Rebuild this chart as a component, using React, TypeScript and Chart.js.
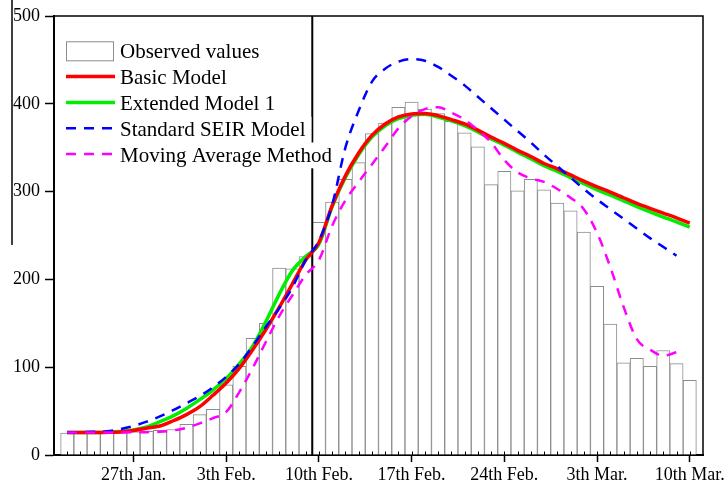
import React, { useEffect, useRef } from "react";
import { Chart, registerables } from "chart.js";

Chart.register(...registerables);

// Day index 0 = 22nd Jan. (one bar per day)
const observed = [
  25, 25, 25, 26, 26, 26.5, 27, 28, 29, 35, 46, 52, 80, 101, 133, 150, 213, 212, 226, 265,
  288, 314, 333, 366, 378, 396, 402, 394, 389, 380, 367, 351, 308, 323, 301, 314, 302, 287,
  278, 254, 192, 149, 105, 110, 101, 119, 104, 85,
];

const basicModel = [
  25.5, 25.5, 25.5, 25.8, 26.3, 28, 30.5, 33, 39, 46, 55, 68, 82, 99, 120, 143, 168, 195, 222,
  242, 284, 318, 344, 364, 377, 385, 388.5, 389, 386.5, 382, 377, 370, 362, 355, 347, 340,
  332, 326, 319, 312, 305.5, 299.5, 293, 286.5, 281, 275.5, 270, 264,
];

const extendedModel1 = [
  25.5, 25.5, 25.5, 26, 26.8, 28.5, 32, 38, 44.5, 53, 63, 74, 87, 104, 124, 152, 183, 210,
  226, 240, 283, 316, 342, 362, 375, 383, 387, 388, 385, 380.5, 375, 368, 360, 353, 345,
  337.5, 329.5, 323, 316, 309, 302, 296, 289.5, 283, 277, 271, 265.5, 259.5,
];

const standardSEIR = [
  25.5, 26, 26.5, 27, 29.5, 33, 38, 44, 51, 59, 67, 77, 89, 104, 124, 146, 167, 191, 222, 244,
  285, 350, 392, 425, 440, 448, 451, 449, 442, 432, 421, 408, 395, 382, 369, 356, 342, 329,
  316, 303, 291, 280, 269, 258, 247, 237, 227,
];

const movingAverage = [
  25.5, 25.5, 25.5, 25.7, 25.7, 25.8, 26, 26.5, 28, 31, 36, 42, 49, 72, 99, 129, 158, 182,
  205, 222, 261, 290, 311, 331, 351, 372, 386, 394, 396, 390, 382, 370, 356, 336, 322, 315,
  311, 303, 293, 280, 253, 214, 169, 132, 120, 113, 117,
];

const tickDays = [5, 12, 19, 26, 33, 40, 47];
const tickLabels = ["27th Jan.", "3th Feb.", "10th Feb.", "17th Feb.", "24th Feb.", "3th Mar.", "10th Mar."];
const markerDay = 18.5;

const legendLabels = [
  "Observed values",
  "Basic Model",
  "Extended Model 1",
  "Standard SEIR Model",
  "Moving Average Method",
];

const FONT_FAMILY = '"Liberation Serif", "Times New Roman", Times, serif';

const lineStyles = [
  { color: "#ff0000", width: 3.5, dash: [] as number[] },
  { color: "#00ee00", width: 3.5, dash: [] as number[] },
  { color: "#0000ff", width: 2.5, dash: [10, 8] },
  { color: "#ff00ff", width: 2.5, dash: [10, 8] },
];
const seriesValues = [basicModel, extendedModel1, standardSEIR, movingAverage];
const seriesOrder = [2, 3, 1, 0];

const toPoints = (arr: number[]) => arr.map((y, i) => ({ x: i, y }));

const decorPlugin = {
  id: "decor",
  afterDatasetDraw(chart: any, args: any) {
    if (args.index !== 0) return;
    const { ctx, chartArea: a, scales } = chart;
    const x = scales.x.getPixelForValue(markerDay);
    ctx.save();
    ctx.strokeStyle = "#000";
    ctx.lineWidth = 2;
    ctx.beginPath();
    ctx.moveTo(x, a.top);
    ctx.lineTo(x, a.bottom);
    ctx.stroke();
    ctx.restore();
  },
  afterDraw(chart: any) {
    const { ctx, chartArea: a, scales } = chart;
    ctx.save();
    // frame top & right
    ctx.strokeStyle = "#000";
    ctx.lineWidth = 1.5;
    ctx.beginPath();
    ctx.moveTo(a.left, a.top);
    ctx.lineTo(a.right, a.top);
    ctx.lineTo(a.right, a.bottom);
    ctx.stroke();
    // minor ticks (inside)
    ctx.lineWidth = 1;
    observed.forEach((_, i) => {
      const px = Math.round(scales.x.getPixelForValue(i)) + 0.5;
      ctx.beginPath();
      ctx.moveTo(px, a.bottom);
      ctx.lineTo(px, a.bottom - 3.5);
      ctx.stroke();
    });
    // stray border line at the left of the picture
    ctx.lineWidth = 1.5;
    ctx.beginPath();
    ctx.moveTo(12, 0);
    ctx.lineTo(12, 245);
    ctx.stroke();

    // legend
    const lx = a.left + 12;
    const tx = a.left + 66;
    const base0 = a.top + 42.3;
    const rowH = 25.8;
    ctx.font = `21px ${FONT_FAMILY}`;
    ctx.textAlign = "left";
    ctx.textBaseline = "alphabetic";
    legendLabels.forEach((label, i) => {
      const by = base0 + i * rowH;
      const w = ctx.measureText(label).width;
      ctx.fillStyle = "#fff";
      ctx.fillRect(tx - 2, by - 19, w + 8, rowH);
      ctx.fillStyle = "#000";
      ctx.fillText(label, tx, by);
      if (i === 0) {
        ctx.fillStyle = "#fff";
        ctx.fillRect(lx, by - 16.5, 47, 19);
        ctx.strokeStyle = "#8c8c8c";
        ctx.lineWidth = 1;
        ctx.setLineDash([]);
        ctx.strokeRect(lx + 0.5, by - 16.5, 47, 19);
      } else {
        const s = lineStyles[i - 1];
        const sy = by - 7.5;
        ctx.strokeStyle = s.color;
        ctx.lineWidth = s.width;
        ctx.setLineDash(s.dash);
        ctx.beginPath();
        ctx.moveTo(lx, sy);
        ctx.lineTo(lx + 49, sy);
        ctx.stroke();
        ctx.setLineDash([]);
      }
    });
    ctx.restore();
  },
};

export default function App() {
  const canvasRef = useRef<HTMLCanvasElement | null>(null);

  useEffect(() => {
    if (!canvasRef.current) return;
    const lineDatasets = seriesValues.map((vals, i) => ({
      type: "line" as const,
      label: legendLabels[i + 1],
      data: toPoints(vals),
      borderColor: lineStyles[i].color,
      borderWidth: lineStyles[i].width,
      borderDash: lineStyles[i].dash,
      fill: false,
      pointRadius: 0,
      cubicInterpolationMode: "monotone" as const,
      order: seriesOrder[i],
    }));

    const chart = new Chart(canvasRef.current, {
      type: "bar",
      data: {
        datasets: [
          {
            type: "bar",
            label: legendLabels[0],
            data: toPoints(observed),
            backgroundColor: "#ffffff",
            borderColor: "#8c8c8c",
            borderWidth: 1,
            barPercentage: 1,
            categoryPercentage: 1,
            order: 10,
          } as any,
          ...lineDatasets,
        ],
      },
      options: {
        animation: false,
        responsive: false,
        devicePixelRatio: 1,
        layout: { padding: { left: 0, top: 16, right: 22, bottom: 0 } },
        plugins: {
          legend: { display: false },
          tooltip: { enabled: false },
        },
        scales: {
          x: {
            type: "linear",
            min: -1,
            max: 48,
            offset: false,
            afterFit: (s: any) => {
              s.height = 29;
            },
            border: { display: true, color: "#000", width: 2 },
            grid: {
              display: true,
              offset: false,
              drawOnChartArea: false,
              drawTicks: true,
              tickLength: 7,
              tickWidth: 1.5,
              tickColor: (c: any) =>
                c.tick && tickDays.includes(c.tick.value) ? "#000" : "rgba(0,0,0,0)",
            },
            ticks: {
              stepSize: 1,
              maxTicksLimit: 100,
              autoSkip: false,
              maxRotation: 0,
              minRotation: 0,
              padding: 2,
              color: "#000",
              font: { family: FONT_FAMILY, size: 18 },
              callback: (v: any) => {
                const idx = tickDays.indexOf(Number(v));
                return idx >= 0 ? tickLabels[idx] : "";
              },
            },
          },
          y: {
            type: "linear",
            min: 0,
            max: 500,
            afterFit: (s: any) => {
              s.width = 54;
            },
            border: { display: true, color: "#000", width: 2 },
            grid: {
              display: true,
              drawOnChartArea: false,
              drawTicks: true,
              tickLength: 9,
              tickWidth: 1.5,
              tickColor: "#000",
            },
            ticks: {
              stepSize: 100,
              padding: 5,
              color: "#000",
              font: { family: FONT_FAMILY, size: 18 },
            },
          },
        },
      } as any,
      plugins: [decorPlugin],
    });
    return () => chart.destroy();
  }, []);

  return (
    <div style={{ position: "absolute", left: 0, top: 0, width: 725, height: 484, background: "#fff" }}>
      <canvas ref={canvasRef} width={725} height={484} style={{ display: "block" }} />
    </div>
  );
}
